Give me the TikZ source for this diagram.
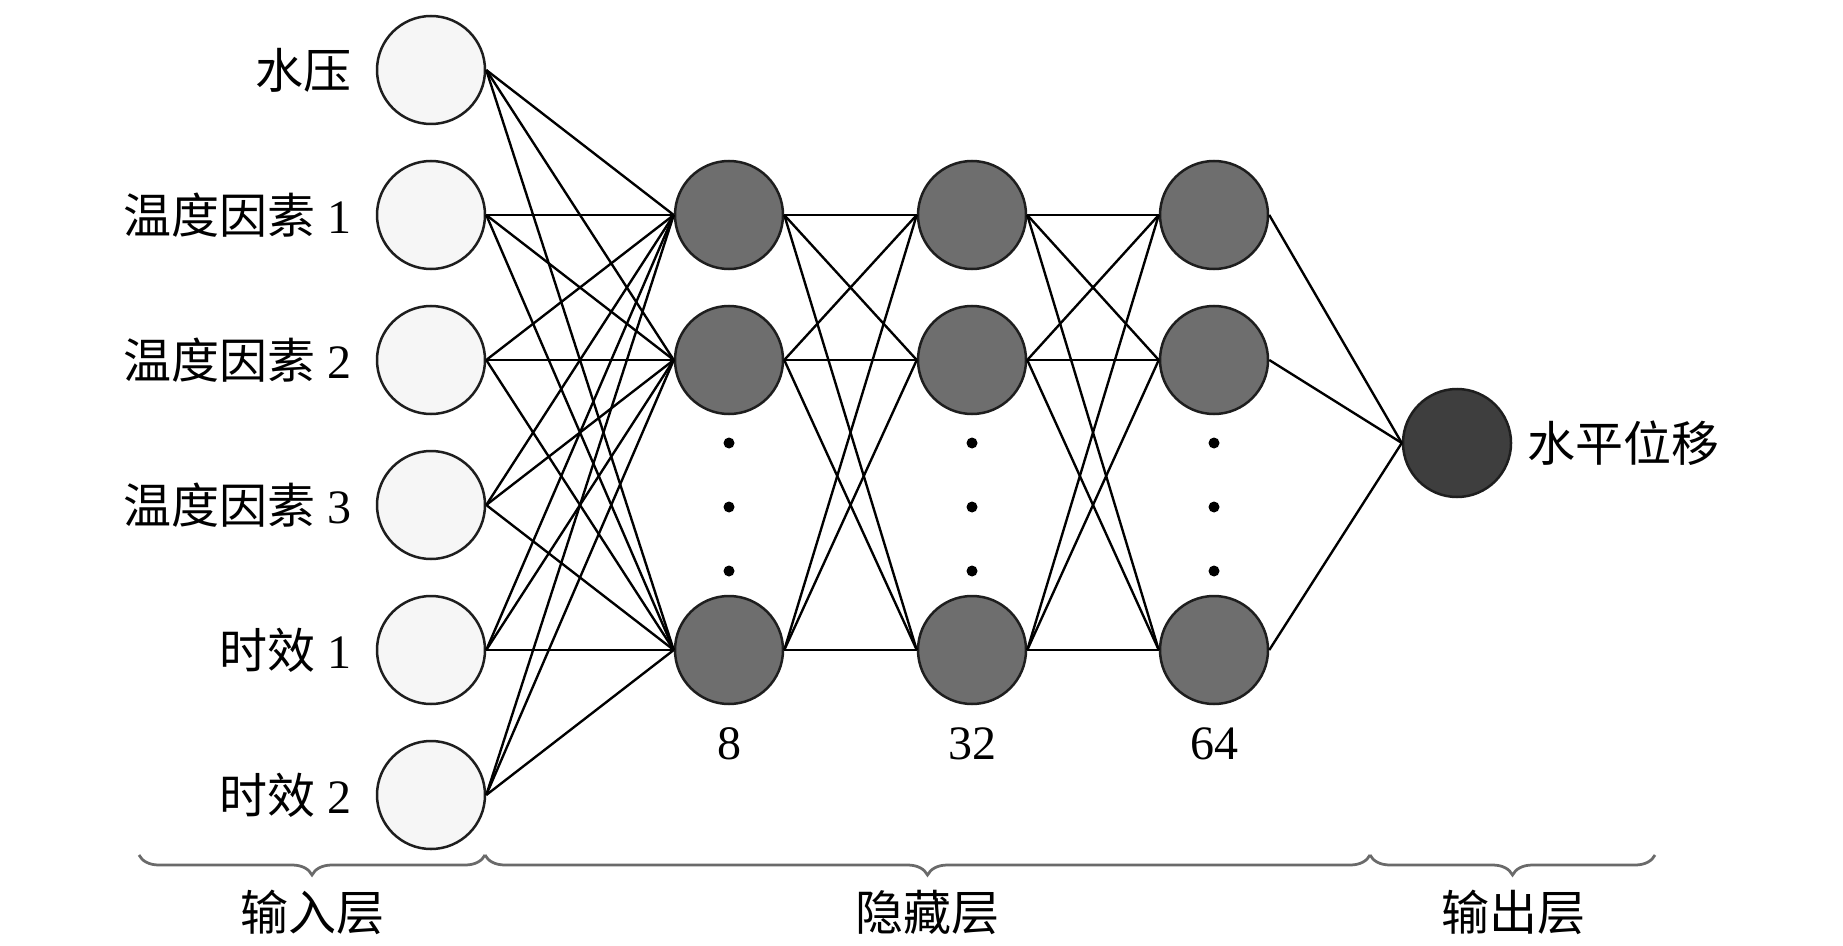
\documentclass[tikz,border=0pt]{standalone}
\usepackage{fontspec}
\setmainfont{Liberation Serif}
\newfontfamily\cjk{Noto Sans CJK SC}
\usetikzlibrary{decorations.pathreplacing}
\definecolor{infill}{HTML}{F6F6F6}
\definecolor{hidfill}{HTML}{6E6E6E}
\definecolor{outfill}{HTML}{3E3E3E}
\definecolor{edge}{HTML}{1E1E1E}
\definecolor{bracecol}{HTML}{6A6A6A}
\begin{document}
\begin{tikzpicture}[x=0.4pt,y=-0.4pt,
  font=\fontsize{19.2}{23}\selectfont,
  neuron/.style={circle, draw=edge, line width=1pt, minimum size=43.2pt, inner sep=0pt},
  innode/.style={neuron, fill=infill},
  hidnode/.style={neuron, fill=hidfill},
  outnode/.style={neuron, fill=outfill},
  conn/.style={line width=0.95pt, black},
  lbl/.style={inner sep=0pt},
  layerbrace/.style={decorate, decoration={brace, mirror, amplitude=8pt}, draw=bracecol, line width=1.1pt},
  ellipsisdot/.style={fill=black}]
\useasboundingbox (0,0) rectangle (1843,945);
\fill[white] (0,0) rectangle (1843,945);

% input nodes
\node[innode] (i1) at (431,70) {};
\node[innode] (i2) at (431,215) {};
\node[innode] (i3) at (431,360) {};
\node[innode] (i4) at (431,505) {};
\node[innode] (i5) at (431,650) {};
\node[innode] (i6) at (431,795) {};

% hidden layers
\foreach \c/\x in {1/729,2/972,3/1214}{
  \node[hidnode] (h\c1) at (\x,215) {};
  \node[hidnode] (h\c2) at (\x,360) {};
  \node[hidnode] (h\c3) at (\x,650) {};
  \fill[ellipsisdot] (\x,443) circle (5.5);
  \fill[ellipsisdot] (\x,507) circle (5.5);
  \fill[ellipsisdot] (\x,571) circle (5.5);
}

% output node
\node[outnode] (o) at (1457,443) {};

% connectors
\foreach \i in {1,...,6}{
  \foreach \j in {1,2,3}{
    \draw[conn] (i\i.east) -- (h1\j.west);
  }
}
\foreach \i in {1,2,3}{
  \foreach \j in {1,2,3}{
    \draw[conn] (h1\i.east) -- (h2\j.west);
    \draw[conn] (h2\i.east) -- (h3\j.west);
  }
  \draw[conn] (h3\i.east) -- (o.west);
}

% input labels
\node[lbl, anchor=east] (l1) at (352,70) {\cjk 水压};
\node[lbl, anchor=east] (l2) at (352,215) {{\cjk 温度因素} 1};
\node[lbl, anchor=east] (l3) at (352,360) {{\cjk 温度因素} 2};
\node[lbl, anchor=east] (l4) at (352,505) {{\cjk 温度因素} 3};
\node[lbl, anchor=east] (l5) at (352,650) {{\cjk 时效} 1};
\node[lbl, anchor=east] (l6) at (352,795) {{\cjk 时效} 2};

% output label
\node[lbl, anchor=west] (lo) at (1527,443) {\cjk 水平位移};

% neuron counts
\node[lbl] (n1) at (729,744) {8};
\node[lbl] (n2) at (972,744) {32};
\node[lbl] (n3) at (1214,744) {64};

% braces
\coordinate (b0) at (139,855);
\coordinate (b1) at (485,855);
\coordinate (b2) at (1370,855);
\coordinate (b3) at (1655,855);
\draw[layerbrace] (b0) -- (b1);
\draw[layerbrace] (b1) -- (b2);
\draw[layerbrace] (b2) -- (b3);

% layer labels
\node[lbl] (t1) at (312,912) {\cjk 输入层};
\node[lbl] (t2) at (927,912) {\cjk 隐藏层};
\node[lbl] (t3) at (1513,912) {\cjk 输出层};
\end{tikzpicture}
\end{document}
